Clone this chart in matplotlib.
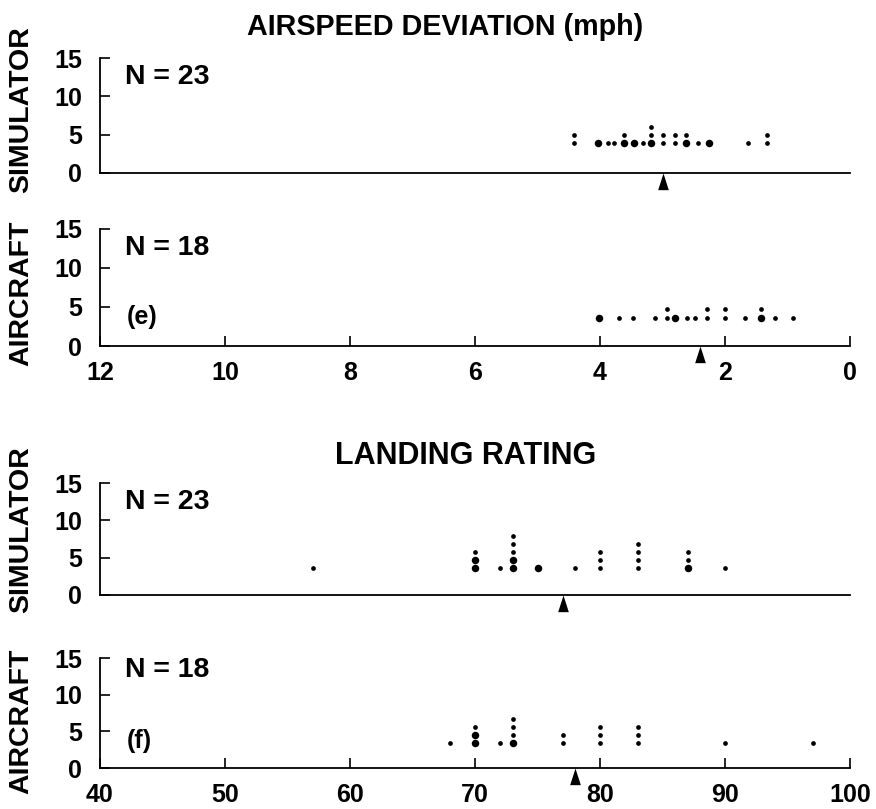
import matplotlib
matplotlib.use("Agg")
import matplotlib.pyplot as plt

plt.rcParams['font.family'] = ['Liberation Sans', 'DejaVu Sans']
plt.rcParams['font.weight'] = 'bold'

# ---- Airspeed deviation (mph): simulator ----
sim_speed_x = [4.42, 4.03, 3.87, 3.78, 3.61, 3.45, 3.32, 3.19, 3.00, 2.80, 2.62, 2.44, 2.26, 1.64, 1.33]
sim_speed_n = [2, 1, 1, 1, 2, 1, 1, 3, 2, 2, 2, 1, 1, 1, 2]
sim_speed_heavy = [0, 1, 0, 0, 1, 1, 0, 1, 0, 0, 1, 0, 1, 0, 0]
sim_speed_mean = 3.0

# ---- Airspeed deviation (mph): aircraft ----
air_speed_x = [4.02, 3.70, 3.48, 3.12, 2.93, 2.80, 2.61, 2.48, 2.29, 2.00, 1.68, 1.43, 1.20, 0.91]
air_speed_n = [1, 1, 1, 1, 2, 1, 1, 1, 2, 2, 1, 2, 1, 1]
air_speed_heavy = [1, 0, 0, 0, 0, 1, 0, 0, 0, 0, 0, 1, 0, 0]
air_speed_mean = 2.4

# ---- Landing rating: simulator ----
sim_land_x = [57, 70, 72, 73, 75, 78, 80, 83, 87, 90]
sim_land_n = [1, 3, 1, 5, 1, 1, 3, 4, 3, 1]
sim_land_heavy = [0, 2, 0, 2, 1, 0, 0, 0, 1, 0]
sim_land_mean = 77.0

# ---- Landing rating: aircraft ----
air_land_x = [68, 70, 72, 73, 77, 80, 83, 90, 97]
air_land_n = [1, 3, 1, 4, 2, 3, 3, 1, 1]
air_land_heavy = [0, 2, 0, 1, 0, 0, 0, 0, 0]
air_land_mean = 78.0

speed_ticks = [12, 10, 8, 6, 4, 2, 0]
land_ticks = [40, 50, 60, 70, 80, 90, 100]
y_ticks = [0, 5, 10, 15]

W, H = 876, 809
fig = plt.figure(figsize=(W / 100, H / 100), dpi=100)


def px_axes(top, bottom):
    return fig.add_axes([100 / W, 1 - bottom / H, 750 / W, (bottom - top) / H])


tri = [(0, 0), (-0.32, -1), (0.32, -1)]


def dot_panel(ax, xs, ns, heavy, mean, xlim, xticks, show_x, n_text, tag,
              base, step=1.05, n_y=12.5):
    ax.set_xlim(*xlim)
    ax.set_ylim(0, 15)
    ax.set_yticks(y_ticks)
    ax.set_xticks(xticks)
    for s in ('top', 'right'):
        ax.spines[s].set_visible(False)
    for s in ('left', 'bottom'):
        ax.spines[s].set_linewidth(1.3)
    ax.tick_params(axis='y', direction='in', length=7, width=1.2,
                   labelsize=18, pad=13)
    if show_x:
        ax.tick_params(axis='x', direction='in', length=7, width=1.2,
                       labelsize=18, pad=10.5)
    else:
        ax.tick_params(axis='x', length=0, labelbottom=False)
    for x, n, h in zip(xs, ns, heavy):
        for k in range(n):
            big = k < h
            ax.plot(x, base + k * step, 'o', color='black',
                    markersize=5.4 if big else 3.4, markeredgewidth=0,
                    clip_on=False)
    ax.plot(mean, 0, marker=tri, color='black', markersize=24,
            markeredgewidth=0, clip_on=False, zorder=5)
    ax.text(0.033, n_y, n_text, transform=ax.get_yaxis_transform(),
            fontsize=20.5, va='center', ha='left')
    if tag:
        ax.text(0.036, 3.7, tag, transform=ax.get_yaxis_transform(),
                fontsize=18, va='center', ha='left')


ax1 = px_axes(58, 173)
dot_panel(ax1, sim_speed_x, sim_speed_n, sim_speed_heavy, sim_speed_mean,
          (12, 0), speed_ticks, False, 'N = 23', None, base=3.9)
ax2 = px_axes(229, 346)
dot_panel(ax2, air_speed_x, air_speed_n, air_speed_heavy, air_speed_mean,
          (12, 0), speed_ticks, True, 'N = 18', '(e)', base=3.65, n_y=12.6)
ax3 = px_axes(483, 595)
dot_panel(ax3, sim_land_x, sim_land_n, sim_land_heavy, sim_land_mean,
          (40, 100), land_ticks, False, 'N = 23', None, base=3.55, step=1.1)
ax4 = px_axes(658, 768)
dot_panel(ax4, air_land_x, air_land_n, air_land_heavy, air_land_mean,
          (40, 100), land_ticks, True, 'N = 18', '(f)', base=3.4, step=1.1,
          n_y=13.3)

# Row labels down the left edge
for yc, lab in ((110, 'SIMULATOR'), (293, 'AIRCRAFT'),
                (530, 'SIMULATOR'), (721, 'AIRCRAFT')):
    fig.text(21 / W, 1 - yc / H, lab, rotation=90, fontsize=20.5,
             ha='center', va='center')

fig.text(445 / W, 1 - 27 / H, 'AIRSPEED DEVIATION (mph)', fontsize=20.7,
         ha='center', va='center')
fig.text(466 / W, 1 - 456 / H, 'LANDING RATING', fontsize=22,
         ha='center', va='center')

fig.savefig('out.png', dpi=100, facecolor='white')
